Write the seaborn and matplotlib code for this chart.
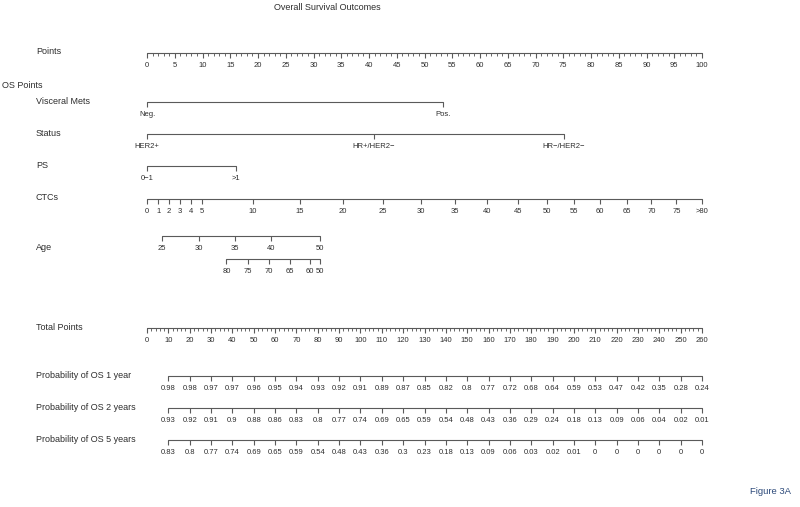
import numpy as np
import matplotlib
matplotlib.use("Agg")
import matplotlib.pyplot as plt
import matplotlib.transforms as mtransforms
import seaborn as sns

# -----------------------
# Data
# -----------------------
points_major = list(range(0, 101, 5))
points_minor = list(range(0, 101, 1))

visceral_labels = ["Neg.", "Pos."]
visceral_points = [0, 53.4]

status_labels = ["HER2+", "HR+/HER2\u2212", "HR\u2212/HER2\u2212"]
status_points = [0, 40.9, 75.1]

ps_labels = ["0\u22121", ">1"]
ps_points = [0, 16.1]

ctc_labels = ["0", "1", "2", "3", "4", "5", "10", "15", "20", "25", "30", "35",
              "40", "45", "50", "55", "60", "65", "70", "75", ">80"]
ctc_points = [0, 2.0, 4.0, 5.9, 7.9, 9.9, 19.1, 27.5, 35.3, 42.5, 49.3, 55.5,
              61.3, 66.9, 72.1, 76.9, 81.6, 86.4, 90.9, 95.4, 100]

age_upper_labels = ["25", "30", "35", "40", "50"]
age_upper_points = [2.7, 9.3, 15.9, 22.4, 31.1]
age_lower_labels = ["80", "75", "70", "65", "60", "50"]
age_lower_points = [14.3, 18.2, 22.0, 25.8, 29.3, 31.1]

total_major = list(range(0, 261, 10))
total_minor = list(range(0, 261, 2))

prob_total_points = list(range(10, 261, 10))
os_1yr = [0.98, 0.98, 0.97, 0.97, 0.96, 0.95, 0.94, 0.93, 0.92, 0.91, 0.89, 0.87, 0.85,
          0.82, 0.8, 0.77, 0.72, 0.68, 0.64, 0.59, 0.53, 0.47, 0.42, 0.35, 0.28, 0.24]
os_2yr = [0.93, 0.92, 0.91, 0.9, 0.88, 0.86, 0.83, 0.8, 0.77, 0.74, 0.69, 0.65, 0.59,
          0.54, 0.48, 0.43, 0.36, 0.29, 0.24, 0.18, 0.13, 0.09, 0.06, 0.04, 0.02, 0.01]
os_5yr = [0.83, 0.8, 0.77, 0.74, 0.69, 0.65, 0.59, 0.54, 0.48, 0.43, 0.36, 0.3, 0.23,
          0.18, 0.13, 0.09, 0.06, 0.03, 0.02, 0.01, 0, 0, 0, 0, 0, 0]

# -----------------------
# Style
# -----------------------
sns.set_theme(style="white")
plt.rcParams["font.family"] = ["Liberation Sans", "DejaVu Sans"]

LINE = "#5a5a5a"
TEXT = "#2e2e2e"
LW = 0.8
LABEL_FS = 6.5
TICK_FS = 5.5

W, H = 800, 507
fig = plt.figure(figsize=(W / 100, H / 100), dpi=100)

# points scale: 0 -> px 147, 100 -> px 702
px0, px100 = 147, 702
scale = (px100 - px0) / 100
ax = fig.add_axes([0, 0, 1, 1])
ax.set_xlim(-px0 / scale, (W - px0) / scale)
ax.set_ylim(H, 0)
ax.axis("off")

# total points scale shares the same pixel span (0..260)
ax2 = fig.add_axes([0, 0, 1, 1])
ax2.set_xlim(-px0 / scale * 2.6, (W - px0) / scale * 2.6)
ax2.set_ylim(H, 0)
ax2.axis("off")
ax2.patch.set_alpha(0)

label_tr = mtransforms.blended_transform_factory(ax.transAxes, ax.transData)


def row_label(y, text, x=0.045):
    ax.text(x, y, text, transform=label_tr, ha="left", va="center",
            fontsize=LABEL_FS, color=TEXT)


def draw_scale(a, y, positions, labels, minor=None, major_len=5, minor_len=2.5):
    sns.lineplot(x=[min(positions), max(positions)], y=[y, y], ax=a,
                 color=LINE, lw=LW, legend=False)
    a.vlines(positions, y, y + major_len, color=LINE, lw=LW)
    if minor is not None:
        a.vlines(minor, y, y + minor_len, color=LINE, lw=LW * 0.8)
    for p, lab in zip(positions, labels):
        a.text(p, y + 12.5, lab, ha="center", va="center",
               fontsize=TICK_FS, color=TEXT)


# -----------------------
# Rows
# -----------------------
row_label(52, "Points")
draw_scale(ax, 53, points_major, [str(v) for v in points_major], minor=points_minor)

ax.text(0.003, 85, "OS Points", transform=label_tr, ha="left", va="center",
        fontsize=LABEL_FS, color=TEXT)

row_label(101, "Visceral Mets")
draw_scale(ax, 102, visceral_points, visceral_labels)

row_label(133, "Status")
draw_scale(ax, 134, status_points, status_labels)

row_label(165, "PS")
draw_scale(ax, 166, ps_points, ps_labels)

row_label(198, "CTCs")
draw_scale(ax, 199, ctc_points, ctc_labels)

row_label(247, "Age")
draw_scale(ax, 236, age_upper_points, age_upper_labels)
draw_scale(ax, 259, age_lower_points, age_lower_labels)

row_label(327, "Total Points")
draw_scale(ax2, 328, total_major, [str(v) for v in total_major], minor=total_minor)

for y, name, vals in [(376, "Probability of OS 1 year", os_1yr),
                      (408, "Probability of OS 2 years", os_2yr),
                      (440, "Probability of OS 5 years", os_5yr)]:
    row_label(y - 1, name)
    draw_scale(ax2, y, prob_total_points, [f"{v:g}" for v in vals])

fig.text(327 / W, 1 - 7 / H, "Overall Survival Outcomes", ha="center", va="center",
         fontsize=LABEL_FS, color=TEXT)
fig.text(771 / W, 1 - 492 / H, "Figure 3A", ha="center", va="center",
         fontsize=6.8, color="#2d4a7a")

fig.savefig("out.png", dpi=100)
